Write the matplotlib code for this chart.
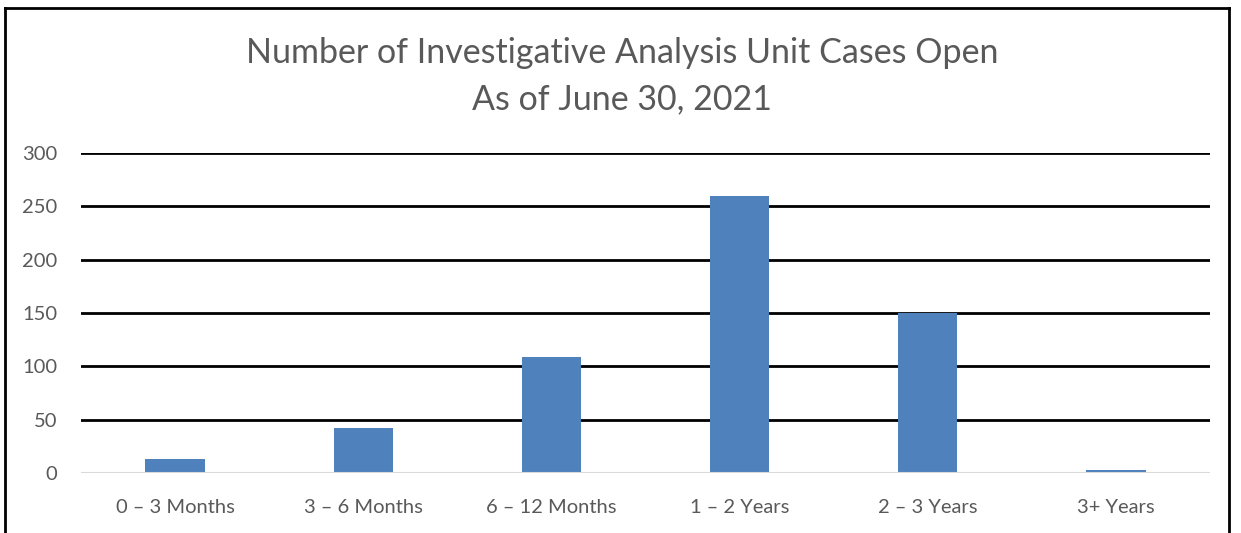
import matplotlib
matplotlib.use("Agg")
import matplotlib.pyplot as plt
from matplotlib.lines import Line2D

categories = ["0 – 3 Months", "3 – 6 Months", "6 – 12 Months", "1 – 2 Years", "2 – 3 Years", "3+ Years"]
cases_open = [13, 42, 109, 260, 150, 3]
y_ticks = [0, 50, 100, 150, 200, 250, 300]
title_text = "Number of Investigative Analysis Unit Cases Open\nAs of June 30, 2021"

W, H = 1241, 533
fig = plt.figure(figsize=(W / 100, H / 100), dpi=100)
plt.rcParams['font.family'] = ['Lato', 'DejaVu Sans']

ax = fig.add_axes([81 / W, 1 - 473 / H, (1210 - 81) / W, (473 - 153) / H])
x = range(len(categories))
ax.bar(x, cases_open, width=0.315, color="#4f81bd", zorder=3)
ax.set_xlim(-0.5, len(categories) - 0.5)
ax.set_ylim(0, 300)
ax.set_yticks(y_ticks)
ax.set_xticks(list(x))
ax.set_xticklabels(categories)
for yt in y_ticks[1:]:
    ax.axhline(yt, color="black", lw=2.0, zorder=1)
ax.axhline(0, color="#d9d9d9", lw=1.5, zorder=4)
for s in ax.spines.values():
    s.set_visible(False)
ax.tick_params(axis="both", length=0, labelsize=14.5, labelcolor="#595959")
ax.tick_params(axis="y", pad=17)
ax.tick_params(axis="x", pad=19)

fig.text(622 / W, 1 - 76 / H, title_text, ha="center", va="center",
         fontsize=24.5, color="#595959", linespacing=1.55)

# outer chart frame
fig.add_artist(Line2D([5 / W, 5 / W], [0, 1 - 8 / H], color="black", lw=2, transform=fig.transFigure))
fig.add_artist(Line2D([1229 / W, 1229 / W], [0, 1 - 8 / H], color="black", lw=2, transform=fig.transFigure))
fig.add_artist(Line2D([5 / W, 1229 / W], [1 - 8 / H, 1 - 8 / H], color="black", lw=2, transform=fig.transFigure))

fig.savefig("out.png", dpi=100, facecolor="white")
